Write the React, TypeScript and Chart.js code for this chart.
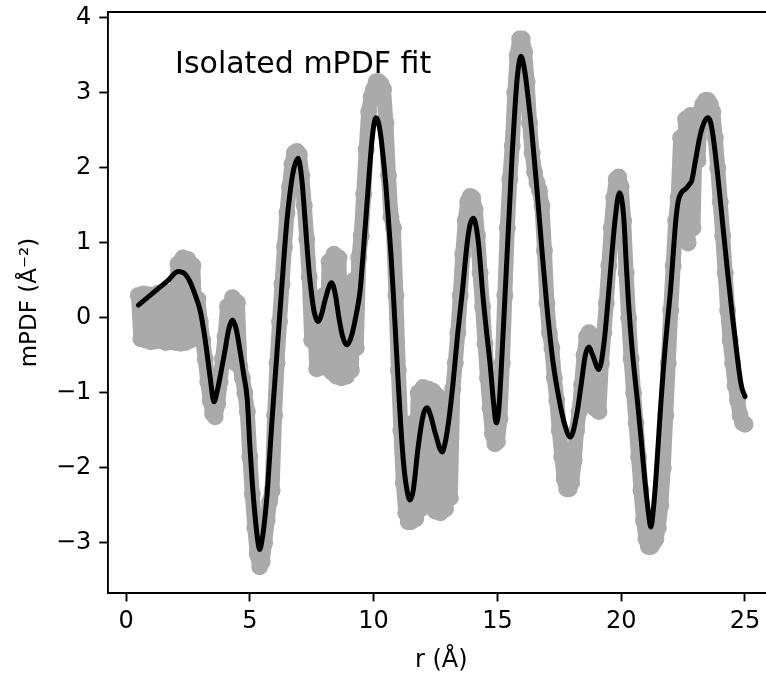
import React, { useEffect, useRef } from "react";
import { Chart, registerables } from "chart.js";

Chart.register(...registerables);

// Fitted mPDF curve (black line): r in Å, value in Å^-2
const fitR = [
  0.5, 0.9, 1.3, 1.7, 2.1, 2.4, 2.6, 2.8, 3.0, 3.2, 3.4, 3.55, 3.7, 3.85, 4.0, 4.15, 4.3, 4.45, 4.6, 4.75,
  4.9, 5.0, 5.1, 5.2, 5.3, 5.4, 5.5, 5.6, 5.7, 5.8, 5.9, 6.0, 6.1, 6.2, 6.3, 6.4, 6.5, 6.6, 6.7, 6.8,
  6.95, 7.1, 7.2, 7.3, 7.4, 7.5, 7.6, 7.75, 7.9, 8.05, 8.3, 8.45, 8.6, 8.75, 8.92, 9.1, 9.3, 9.45, 9.6, 9.75,
  9.9, 10.0, 10.1, 10.2, 10.3, 10.4, 10.5, 10.6, 10.7, 10.8, 10.9, 11.0, 11.1, 11.2, 11.3, 11.47, 11.6, 11.8, 12.0, 12.16,
  12.3, 12.5, 12.77, 12.9, 13.0, 13.1, 13.2, 13.3, 13.4, 13.5, 13.6, 13.7, 13.8, 13.9, 14.03, 14.15, 14.25, 14.4, 14.55, 14.7,
  14.85, 14.95, 15.05, 15.2, 15.3, 15.4, 15.5, 15.6, 15.7, 15.8, 15.95, 16.1, 16.2, 16.4, 16.6, 16.8, 17.0, 17.25, 17.5, 17.7,
  17.95, 18.2, 18.4, 18.55, 18.7, 18.85, 19.1, 19.3, 19.47, 19.6, 19.75, 19.93, 20.1, 20.2, 20.3, 20.45, 20.65, 20.8, 20.95, 21.1,
  21.2, 21.3, 21.4, 21.5, 21.6, 21.7, 21.8, 21.9, 22.0, 22.1, 22.2, 22.3, 22.45, 22.6, 22.75, 22.85, 23.0, 23.2, 23.4, 23.5,
  23.6, 23.7, 23.9, 24.1, 24.3, 24.5, 24.7, 24.85, 25.0,
];
const fitV = [
  0.17, 0.28, 0.39, 0.5, 0.62, 0.58, 0.47, 0.3, 0.09, -0.3, -0.8, -1.12, -0.95, -0.7, -0.43, -0.15, -0.03, -0.15, -0.43, -0.75,
  -1.1, -1.7, -2.2, -2.6, -2.92, -3.09, -2.95, -2.7, -2.35, -1.85, -1.35, -0.9, -0.45, 0.0, 0.45, 0.9, 1.3, 1.6, 1.85, 2.02,
  2.13, 1.85, 1.45, 1.0, 0.6, 0.3, 0.08, -0.05, 0.05, 0.25, 0.47, 0.32, 0.0, -0.25, -0.36, -0.25, 0.05, 0.35, 0.95, 1.6,
  2.25, 2.55, 2.67, 2.6, 2.4, 2.1, 1.75, 1.3, 0.85, 0.3, -0.3, -0.9, -1.45, -1.9, -2.2, -2.43, -2.3, -1.72, -1.3, -1.2,
  -1.3, -1.55, -1.79, -1.65, -1.45, -1.2, -0.9, -0.55, -0.2, 0.1, 0.4, 0.75, 1.05, 1.25, 1.33, 1.2, 0.95, 0.35, -0.15, -0.6,
  -1.15, -1.4, -1.25, -0.4, 0.25, 0.9, 1.55, 2.2, 2.75, 3.2, 3.49, 3.3, 3.05, 2.45, 1.7, 0.9, 0.15, -0.6, -1.1, -1.4,
  -1.59, -1.3, -0.85, -0.5, -0.39, -0.5, -0.69, -0.35, 0.24, 0.75, 1.3, 1.67, 1.35, 0.75, 0.18, -0.45, -1.09, -1.6, -2.15, -2.6,
  -2.79, -2.55, -2.15, -1.65, -1.15, -0.7, -0.3, 0.05, 0.4, 0.85, 1.28, 1.55, 1.68, 1.72, 1.78, 1.83, 2.1, 2.45, 2.64, 2.67,
  2.62, 2.45, 1.9, 1.25, 0.6, 0.0, -0.55, -0.9, -1.05,
];

// Measured mPDF data (grey open circles), sampled every 0.1 Å from 0.5 Å
const dataStartR = 0.5;
const dataStepR = 0.1;
const dataV = [
  0.3, -0.28, 0.32, -0.3, 0.31, -0.32, 0.3, -0.31, 0.33, -0.3,
  0.32, -0.33, 0.34, -0.32, 0.35, -0.33, 0.72, -0.34, 0.8, -0.33,
  0.78, -0.3, 0.7, -0.25, 0.25, -0.05, -0.3, -0.55, -0.85, -1.1,
  -1.28, -1.32, -1.15, -0.85, -0.55, -0.25, 0.15, -0.55, 0.27, -0.6,
  0.2, -0.65, -0.8, -1.0, -1.25, -1.85, -2.35, -2.8, -3.15, -3.32,
  -3.25, -3.0, -2.7, -2.45, -2.3, -1.3, -0.6, -0.05, 0.45, 0.95,
  1.4, 1.75, 2.05, 2.2, 2.22, 2.18, 1.9, 1.5, 1.05, 0.55,
  -0.3, 0.2, -0.68, 0.05, -0.66, 0.3, -0.62, 0.75, -0.72, 0.85,
  -0.78, 0.8, -0.8, 0.4, -0.78, 0.2, -0.7, 0.5, -0.4, 0.8,
  1.1, 1.65, 2.25, 2.75, 2.95, 3.05, 3.15, 3.15, 3.12, 3.05,
  2.6, 1.9, 1.35, 1.2, 0.3, -0.7, -1.5, -2.2, -2.6, -2.72,
  -2.72, -1.4, -2.68, -1.0, -2.55, -0.93, -2.2, -0.95, -2.5, -0.98,
  -2.58, -1.05, -2.6, -1.2, -2.55, -1.3, -2.4, -0.95, -0.6, -0.2,
  0.3, 0.85, 1.3, 1.55, 1.62, 1.6, 1.45, 1.1, 0.6, 0.15,
  -0.35, -0.8, -1.2, -1.55, -1.68, -1.65, -1.35, -0.6, 0.3, 1.2,
  1.85, 2.3, 3.0, 3.5, 3.72, 3.72, 3.55, 3.15, 2.6, 2.2,
  1.95, 1.8, 1.7, 1.5, 0.9, 0.2, -0.2, -0.4, -0.8, -1.1,
  -1.5, -1.85, -2.15, -2.28, -2.28, -2.2, -1.9, -1.5, -1.25, -0.9,
  -0.5, -0.25, -0.2, -0.5, -1.2, -0.8, -1.25, -0.6, -0.2, 0.2,
  0.7, 1.2, 1.6, 1.85, 1.88, 1.75, 1.3, 0.6, 0.0, -0.55,
  -1.0, -1.4, -1.85, -2.3, -2.7, -2.95, -3.05, -3.05, -3.0, -2.95,
  -2.8, -2.5, -2.0, -1.3, -0.6, 0.1, 0.7, 1.3, 1.6, 2.4,
  1.2, 2.65, 1.0, 2.7, 1.2, 2.6, 2.1, 2.75, 2.85, 2.9,
  2.9, 2.85, 2.75, 2.4, 2.0, 1.55, 1.1, 0.6, 0.1, -0.3,
  -0.6, -0.9, -1.1, -1.3, -1.4, -1.42,
];

const xTicks = [0, 5, 10, 15, 20, 25];
const yTicks = [-3, -2, -1, 0, 1, 2, 3, 4];
const xLimits = [-0.74, 26.2];
const yLimits = [-3.67, 4.08];
const xTitle = "r (Å)";
const yTitle = "mPDF (Å\u207B\u00B2)";
const annotationText = "Isolated mPDF fit";
const annotationAt = { r: 1.98, v: 3.27 };

const FONT = '"DejaVu Sans", "Liberation Sans", sans-serif';

const fmt = (v: number) => (v < 0 ? "\u2212" + Math.abs(v) : String(v));

const framePlugin = {
  id: "frameAndText",
  afterDatasetsDraw(chart: any) {
    const { ctx, chartArea, scales } = chart;
    ctx.save();
    ctx.strokeStyle = "#000";
    ctx.lineWidth = 1.9;
    ctx.beginPath();
    ctx.moveTo(chartArea.left, chartArea.top);
    ctx.lineTo(chartArea.right + 5, chartArea.top);
    ctx.stroke();
    ctx.font = `30px ${FONT}`;
    ctx.fillStyle = "#000";
    ctx.textBaseline = "alphabetic";
    ctx.textAlign = "left";
    ctx.fillText(
      annotationText,
      scales.x.getPixelForValue(annotationAt.r),
      scales.y.getPixelForValue(annotationAt.v)
    );
    ctx.restore();
  },
};

export default function App() {
  const ref = useRef<HTMLCanvasElement | null>(null);

  useEffect(() => {
    if (!ref.current) return;
    const fitPoints = fitR.map((r, i) => ({ x: r, y: fitV[i] }));
    const dataPoints = dataV.map((v, i) => ({
      x: Math.round((dataStartR + i * dataStepR) * 100) / 100,
      y: v,
    }));

    const chart = new Chart(ref.current, {
      type: "line",
      data: {
        datasets: [
          {
            label: "fit",
            data: fitPoints,
            borderColor: "#000",
            borderWidth: 5,
            pointRadius: 0,
            cubicInterpolationMode: "monotone",
            borderCapStyle: "round",
            borderJoinStyle: "round",
            order: 0,
          },
          {
            label: "data",
            data: dataPoints,
            borderColor: "#aaaaaa",
            borderWidth: 15,
            borderCapStyle: "round",
            borderJoinStyle: "round",
            tension: 0,
            pointRadius: 7.5,
            pointBorderWidth: 2,
            pointBorderColor: "#aaaaaa",
            pointBackgroundColor: "rgba(0,0,0,0)",
            order: 1,
          },
        ],
      },
      options: {
        animation: false,
        responsive: true,
        maintainAspectRatio: false,
        events: [],
        layout: { padding: { top: 12, right: 25.3, bottom: 0, left: 0 } },
        plugins: {
          legend: { display: false },
          tooltip: { enabled: false },
        },
        scales: {
          x: {
            type: "linear",
            min: xLimits[0],
            max: xLimits[1],
            afterBuildTicks: (s: any) => {
              s.ticks = xTicks.map((value) => ({ value }));
            },
            afterFit: (s: any) => {
              s.height = 80;
              s.paddingLeft = 0;
              s.paddingRight = 0;
              s.paddingTop = 0;
              s.paddingBottom = 0;
            },
            grid: {
              display: true,
              drawOnChartArea: false,
              drawTicks: true,
              tickLength: 8.4,
              tickWidth: 1.9,
              tickColor: "#000",
              color: "#000",
            },
            border: { display: true, color: "#000", width: 1.9 },
            ticks: {
              color: "#000",
              font: { family: FONT, size: 24 },
              padding: 6,
              maxRotation: 0,
              autoSkip: false,
              callback: (v: any) => fmt(Number(v)),
            },
            title: {
              display: true,
              text: xTitle,
              color: "#000",
              font: { family: FONT, size: 24, lineHeight: 1.2 },
              padding: { top: 0, bottom: -2 },
            },
          },
          y: {
            type: "linear",
            min: yLimits[0],
            max: yLimits[1],
            afterBuildTicks: (s: any) => {
              s.ticks = yTicks.map((value) => ({ value }));
            },
            afterFit: (s: any) => {
              s.width = 107.7;
              s.paddingLeft = 0;
              s.paddingRight = 0;
              s.paddingTop = 0;
              s.paddingBottom = 0;
            },
            grid: {
              display: true,
              drawOnChartArea: false,
              drawTicks: true,
              tickLength: 8.4,
              tickWidth: 1.9,
              tickColor: "#000",
              color: "#000",
            },
            border: { display: true, color: "#000", width: 1.9 },
            ticks: {
              color: "#000",
              font: { family: FONT, size: 24 },
              padding: 8,
              autoSkip: false,
              callback: (v: any) => fmt(Number(v)),
            },
            title: {
              display: true,
              text: yTitle,
              color: "#000",
              font: { family: FONT, size: 23, lineHeight: 1.2 },
              padding: { top: 16, bottom: 0 },
            },
          },
        },
      },
      plugins: [framePlugin],
    });
    return () => chart.destroy();
  }, []);

  return (
    <div
      style={{
        position: "fixed",
        left: 0,
        top: 0,
        width: 766,
        height: 673,
        overflow: "hidden",
        background: "#fff",
      }}
    >
      <div style={{ position: "relative", width: 800, height: 673 }}>
        <canvas ref={ref} />
      </div>
    </div>
  );
}
